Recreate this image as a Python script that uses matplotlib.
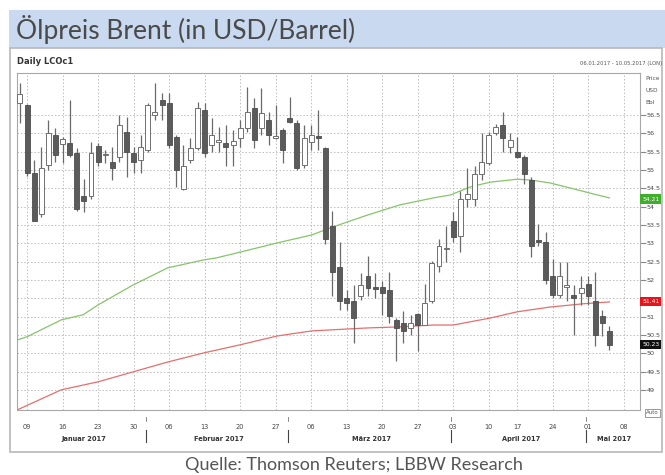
import numpy as np
import pandas as pd
import matplotlib
matplotlib.use('Agg')
import matplotlib.pyplot as plt
from matplotlib.patches import Rectangle
import matplotlib.transforms as mtransforms

# daily OHLC, Brent LCOc1, 06.01.2017 - 04.05.2017
opens = [56.82, 56.77, 54.93, 53.80, 55.15, 55.96, 55.70, 55.74, 55.47, 54.30,
         54.28, 55.66, 55.40, 55.23, 55.36, 56.04, 55.47, 55.28, 55.55, 56.50,
         56.90, 56.82, 55.90, 54.47, 55.28, 55.61, 56.63, 55.69, 55.77, 55.74,
         55.69, 55.88, 56.15, 56.69, 56.15, 56.36, 55.88, 56.10, 56.42, 56.28,
         55.15, 55.77, 55.92, 55.60, 53.47, 52.36, 51.50, 51.42, 51.55, 52.12,
         51.78, 51.82, 51.72, 50.90, 50.82, 50.69, 51.07, 50.77, 51.42, 52.39,
         52.84, 53.60, 53.20, 54.20, 54.20, 54.88, 55.20, 56.01, 56.23, 55.64,
         55.50, 55.36, 54.74, 53.10, 53.04, 52.12, 51.58, 51.82, 51.58, 51.64,
         51.90, 51.42, 51.01, 50.61]
highs = [57.39, 56.80, 55.28, 55.64, 56.36, 56.15, 55.90, 56.90, 55.60, 54.75,
         55.77, 55.74, 55.55, 55.64, 56.50, 56.45, 55.64, 55.96, 56.82, 57.39,
         57.10, 57.10, 55.96, 55.69, 55.88, 56.85, 56.82, 56.42, 56.18, 56.23,
         56.10, 56.36, 57.26, 56.96, 57.23, 56.58, 56.77, 56.15, 56.99, 56.36,
         56.23, 56.23, 56.65, 55.62, 53.88, 53.04, 51.72, 51.85, 52.18, 52.66,
         52.18, 51.96, 52.23, 50.96, 51.15, 51.04, 51.10, 51.90, 52.53, 53.12,
         53.47, 53.85, 54.42, 55.07, 55.10, 56.01, 56.04, 56.26, 56.58, 56.01,
         55.90, 55.42, 54.82, 53.53, 53.31, 52.58, 52.50, 52.50, 51.85, 52.12,
         52.12, 52.23, 51.18, 50.74]
lows = [56.28, 54.85, 53.60, 53.72, 55.01, 55.23, 55.20, 55.36, 53.88, 53.85,
        54.20, 55.10, 55.20, 54.74, 55.23, 54.82, 54.93, 54.93, 55.50, 56.36,
        56.36, 55.60, 54.55, 54.45, 55.20, 55.55, 55.36, 55.50, 55.50, 55.10,
        55.10, 55.64, 56.04, 55.61, 55.96, 55.69, 55.85, 55.20, 56.28, 55.01,
        55.07, 55.55, 55.55, 52.99, 51.55, 51.18, 51.18, 50.28, 51.45, 51.55,
        51.50, 51.04, 50.82, 49.80, 50.28, 50.50, 50.07, 50.77, 51.36, 52.23,
        52.50, 53.04, 52.77, 53.99, 54.01, 54.74, 55.15, 55.96, 55.50, 55.47,
        55.33, 54.61, 52.64, 52.93, 51.90, 51.50, 51.50, 51.42, 50.50, 51.31,
        51.31, 50.20, 50.47, 50.10]
closes = [57.09, 54.93, 53.61, 55.07, 56.01, 55.42, 55.85, 55.42, 53.93, 54.15,
          55.47, 55.23, 55.41, 55.07, 56.23, 55.50, 55.23, 55.63, 56.77, 56.58,
          56.77, 55.69, 55.01, 55.10, 55.61, 56.69, 55.47, 55.96, 55.78, 55.63,
          55.80, 56.15, 56.58, 55.82, 56.55, 55.96, 55.92, 55.55, 56.31, 55.07,
          55.88, 55.96, 55.88, 53.12, 52.23, 51.42, 51.36, 50.96, 51.85, 51.77,
          51.76, 51.64, 51.01, 50.69, 50.61, 50.82, 50.77, 51.36, 52.45, 52.93,
          52.86, 53.17, 54.20, 54.36, 54.88, 55.23, 55.96, 56.18, 55.88, 55.83,
          55.36, 54.88, 52.93, 53.04, 51.99, 51.58, 52.12, 51.83, 51.50, 51.77,
          51.55, 50.50, 50.82, 50.23]

ma_green_idx = [-0.42, 1, 5.8, 8.9, 11, 15.9, 20.8, 25.9, 27.6, 31, 36.2, 41.1, 44.1,
                48.9, 53.5, 58.2, 60.6, 63.4, 66.2, 70, 71.8, 74.6, 77.5, 80.3, 83]
ma_green = [50.36, 50.45, 50.91, 51.05, 51.32, 51.86, 52.33, 52.55, 52.60, 52.76, 53.01,
            53.23, 53.45, 53.77, 54.05, 54.24, 54.32, 54.54, 54.67, 54.75, 54.73, 54.65,
            54.51, 54.37, 54.24]
ma_red_idx = [-0.42, 5.8, 11, 15.9, 20.8, 25.9, 31, 36.2, 41.1, 48.9, 53.5, 58.2, 61,
              66.2, 70, 74.6, 79.3, 83]
ma_red = [48.45, 49.00, 49.22, 49.49, 49.76, 50.01, 50.23, 50.47, 50.61, 50.69, 50.72,
          50.77, 50.77, 50.96, 51.13, 51.26, 51.35, 51.40]

month_names = ['Januar 2017', 'Februar 2017', 'März 2017', 'April 2017', 'Mai 2017']
y_ticks = [49, 49.5, 50, 50.5, 51, 51.5, 52, 52.5, 53, 53.5, 54, 54.5, 55, 55.5, 56, 56.5]
hidden_ticks = [51.5]  # covered by the red price tag
tags = [('54.21', 54.21, '#3fae2a', 'white'),
        ('51.41', 51.41, '#e8141b', 'white'),
        ('50.23', 50.23, '#111111', 'white')]

# trading days (Good Friday closed), extended to 08.05. for the last tick
days = pd.bdate_range('2017-01-06', '2017-05-08')
days = days[days != pd.Timestamp('2017-04-14')]
n = len(opens)

W, H = 665, 475
fig = plt.figure(figsize=(W / 100, H / 100), dpi=100)
fig.patch.set_facecolor('white')

def fx(px):
    return px / W

def fy(py):
    return 1 - py / H

# title banner
fig.patches.append(Rectangle((fx(9), fy(48)), fx(665) - fx(9), fy(10) - fy(48),
                             transform=fig.transFigure, facecolor='#c9d9ef',
                             edgecolor='none', zorder=-2))
fig.text(fx(16), fy(30), 'Ölpreis Brent (in USD/Barrel)', family='Lato', fontsize=19,
         color='#4a4a4a', va='center', ha='left')

# chart panel
fig.patches.append(Rectangle((fx(10), fy(452)), fx(662) - fx(10), fy(48) - fy(452),
                             transform=fig.transFigure, facecolor='white',
                             edgecolor='#b8b8b8', lw=1.2, zorder=-2))
fig.text(fx(17), fy(62), 'Daily LCOc1', fontsize=6, weight='bold', color='#333333',
         va='center')
fig.text(fx(662), fy(63), '06.01.2017 - 10.05.2017 (LON)', fontsize=3.8,
         color='#555555', va='center', ha='right')
fig.text(fx(354), fy(465), 'Quelle: Thomson Reuters; LBBW Research', family='Lato',
         fontsize=13, color='#555555', ha='center', va='center')

ax = fig.add_axes([fx(17), fy(410), fx(640) - fx(17), fy(73) - fy(410)])
ax.set_zorder(3)
x = np.arange(n)

for spine in ax.spines.values():
    spine.set_color('#a8a8a8')
    spine.set_linewidth(0.8)

# grid
mondays = [i for i, d in enumerate(days) if d.weekday() == 0]
ax.set_xticks(mondays)
ax.set_xticklabels([days[i].strftime('%d') for i in mondays])
ax.set_yticks(y_ticks)
ax.set_yticklabels(['' if v in hidden_ticks else '%g' % v for v in y_ticks])
ax.grid(True, color='#bdbdbd', ls=(0, (1.5, 2)), lw=0.7)
ax.set_axisbelow(True)
ax.yaxis.tick_right()
ax.tick_params(axis='y', labelsize=4.6, length=4, color='#888888', labelcolor='#444444', pad=1)
ax.tick_params(axis='x', labelsize=4.8, length=0, labelcolor='#444444', pad=10)

# moving averages
ax.plot(ma_green_idx, ma_green, color='#86c46a', lw=0.9, zorder=2)
ax.plot(ma_red_idx, ma_red, color='#e66e6e', lw=0.9, zorder=2)

# candles
o = np.array(opens)
c = np.array(closes)
up = c >= o
ax.vlines(x, lows, highs, color='#6a6a6a', lw=0.9, zorder=3)
bottom = np.minimum(o, c)
height = np.maximum(np.abs(c - o), 0.04)
ax.bar(x[~up], height[~up], bottom=bottom[~up], width=0.7, color='#5b5b5b',
       edgecolor='#4d4d4d', lw=0.6, zorder=4)
ax.bar(x[up], height[up], bottom=bottom[up], width=0.7, color='white',
       edgecolor='#6f6f6f', lw=0.7, zorder=4)

ax.set_xlim(-0.42, 87.3)
ax.set_ylim(48.45, 57.65)

# month labels and separators
trans = mtransforms.blended_transform_factory(ax.transData, ax.transAxes)
starts = [0] + [i for i in range(1, len(days)) if days[i].month != days[i - 1].month]
bounds = starts + [87.3]
for k, name in enumerate(month_names):
    a = max(bounds[k], -0.42)
    b = bounds[k + 1]
    ax.text((a + b) / 2, -0.085, name, transform=trans, fontsize=4.8, weight='bold',
            color='#333333', ha='center', va='center', clip_on=False)
for s in starts[1:]:
    sx = s - 0.3
    ax.plot([sx, sx], [-0.095, -0.06], transform=trans, color='#444444', lw=0.8,
            clip_on=False)
    ax.plot([sx, sx], [-0.033, -0.022], transform=trans, color='#777777', lw=0.6,
            clip_on=False)

# right side labels
for k, t in enumerate(['Price', 'USD', 'Bbl']):
    fig.text(fx(645), fy(78 + 12 * k), t, fontsize=4.2, color='#555555', va='center')
for label, val, bg, fg in tags:
    ax.annotate(label, xy=(1.0, val), xycoords=('axes fraction', 'data'),
                xytext=(1.5, 0), textcoords='offset points', fontsize=4.3, color=fg,
                va='center', ha='left', annotation_clip=False,
                bbox=dict(boxstyle='square,pad=0.35', fc=bg, ec='none'))
fig.text(fx(646), fy(413), 'Auto', fontsize=4, color='#555555', va='center',
         bbox=dict(boxstyle='square,pad=0.2', fc='white', ec='#888888', lw=0.6))

fig.savefig('out.png', dpi=100)
